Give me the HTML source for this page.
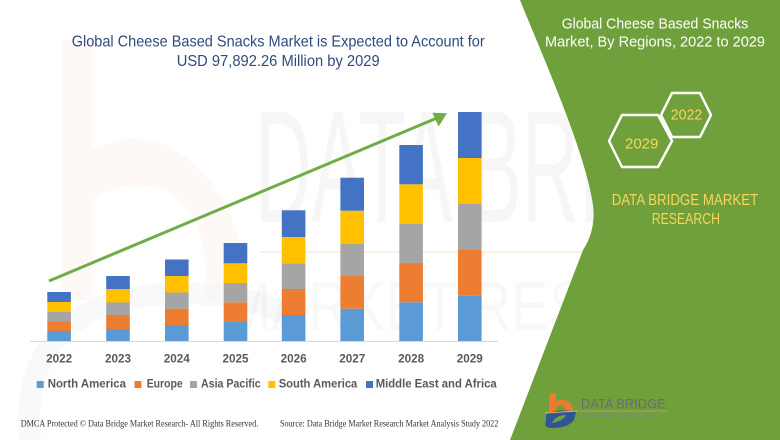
<!DOCTYPE html>
<html><head><meta charset="utf-8"><style>
html,body{margin:0;padding:0;background:#fff;}
svg{display:block;}
text{font-family:"Liberation Sans",sans-serif;}
.serif{font-family:"Liberation Serif",serif;}
</style></head><body>
<svg width="780" height="440" viewBox="0 0 780 440" xmlns="http://www.w3.org/2000/svg">
<rect width="780" height="440" fill="#ffffff"/>
<!-- watermark -->
<g opacity="0.45">
<path d="M62,40 L92,40 L92,150 Q150,120 200,170 Q250,220 240,300 L205,300 Q210,230 180,200 Q140,170 92,200 L92,300 L62,300 Z" fill="#fbe9dc" opacity="0.6"/>
<path d="M30,440 Q20,330 120,300 Q220,280 300,320" fill="none" stroke="#e6ecf3" stroke-width="22" opacity="0.7"/>
</g>
<text x="255" y="222" font-size="160" fill="#000" opacity="0.03" textLength="515" lengthAdjust="spacingAndGlyphs">DATA BRIDGE</text>
<rect x="260" y="251" width="330" height="2" fill="#f6d9c4" opacity="0.45"/>
<text x="225" y="330" font-size="70" fill="#000" opacity="0.025" textLength="555" lengthAdjust="spacingAndGlyphs">MARKET RESEARCH</text>

<!-- green panel -->
<path d="M520,0 C540,50 585,150 593,205 Q596,230 583,250 L510,440 L780,440 L780,0 Z" fill="#70a03b"/>

<!-- title -->
<text x="71.7" y="46.5" font-size="16" fill="#2f4a7c" textLength="413" lengthAdjust="spacingAndGlyphs">Global Cheese Based Snacks Market is Expected to Account for</text>
<text x="176.7" y="66" font-size="16" fill="#2f4a7c" textLength="203" lengthAdjust="spacingAndGlyphs">USD 97,892.26 Million by 2029</text>

<!-- axis -->
<line x1="30" y1="341.5" x2="498" y2="341.5" stroke="#d9d9d9" stroke-width="1"/>

<!-- bars -->
<g>
<!-- 2022 -->
<rect x="47.3" y="331" width="23.6" height="10" fill="#5b9bd5"/>
<rect x="47.3" y="321.5" width="23.6" height="9.5" fill="#ed7d31"/>
<rect x="47.3" y="312" width="23.6" height="9.5" fill="#a5a5a5"/>
<rect x="47.3" y="302" width="23.6" height="10" fill="#ffc000"/>
<rect x="47.3" y="292" width="23.6" height="10" fill="#4472c4"/>
<!-- 2023 -->
<rect x="106.2" y="329" width="23.6" height="12" fill="#5b9bd5"/>
<rect x="106.2" y="315" width="23.6" height="14" fill="#ed7d31"/>
<rect x="106.2" y="302.5" width="23.6" height="12.5" fill="#a5a5a5"/>
<rect x="106.2" y="289" width="23.6" height="13.5" fill="#ffc000"/>
<rect x="106.2" y="276" width="23.6" height="13" fill="#4472c4"/>
<!-- 2024 -->
<rect x="165" y="325" width="23.6" height="16" fill="#5b9bd5"/>
<rect x="165" y="308.7" width="23.6" height="16.3" fill="#ed7d31"/>
<rect x="165" y="292.5" width="23.6" height="16.2" fill="#a5a5a5"/>
<rect x="165" y="276" width="23.6" height="16.5" fill="#ffc000"/>
<rect x="165" y="259.5" width="23.6" height="16.5" fill="#4472c4"/>
<!-- 2025 -->
<rect x="223.7" y="322" width="23.6" height="19" fill="#5b9bd5"/>
<rect x="223.7" y="302.3" width="23.6" height="19.7" fill="#ed7d31"/>
<rect x="223.7" y="283" width="23.6" height="19.3" fill="#a5a5a5"/>
<rect x="223.7" y="263.3" width="23.6" height="19.7" fill="#ffc000"/>
<rect x="223.7" y="243" width="23.6" height="20.3" fill="#4472c4"/>
<!-- 2026 -->
<rect x="281.8" y="315" width="23.6" height="26" fill="#5b9bd5"/>
<rect x="281.8" y="289" width="23.6" height="26" fill="#ed7d31"/>
<rect x="281.8" y="263.3" width="23.6" height="25.7" fill="#a5a5a5"/>
<rect x="281.8" y="237" width="23.6" height="26.3" fill="#ffc000"/>
<rect x="281.8" y="210.3" width="23.6" height="26.7" fill="#4472c4"/>
<!-- 2027 -->
<rect x="340.4" y="308.7" width="23.6" height="32.3" fill="#5b9bd5"/>
<rect x="340.4" y="276" width="23.6" height="32.7" fill="#ed7d31"/>
<rect x="340.4" y="243.3" width="23.6" height="32.7" fill="#a5a5a5"/>
<rect x="340.4" y="210.7" width="23.6" height="32.6" fill="#ffc000"/>
<rect x="340.4" y="177.7" width="23.6" height="33" fill="#4472c4"/>
<!-- 2028 -->
<rect x="399.3" y="302.3" width="23.6" height="38.7" fill="#5b9bd5"/>
<rect x="399.3" y="263" width="23.6" height="39.3" fill="#ed7d31"/>
<rect x="399.3" y="223.7" width="23.6" height="39.3" fill="#a5a5a5"/>
<rect x="399.3" y="184.3" width="23.6" height="39.4" fill="#ffc000"/>
<rect x="399.3" y="145" width="23.6" height="39.3" fill="#4472c4"/>
<!-- 2029 -->
<rect x="458" y="295.7" width="23.6" height="45.3" fill="#5b9bd5"/>
<rect x="458" y="250" width="23.6" height="45.7" fill="#ed7d31"/>
<rect x="458" y="204" width="23.6" height="46" fill="#a5a5a5"/>
<rect x="458" y="158" width="23.6" height="46" fill="#ffc000"/>
<rect x="458" y="112" width="23.6" height="46" fill="#4472c4"/>
</g>

<!-- arrow -->
<line x1="49" y1="281" x2="437" y2="118" stroke="#70ad47" stroke-width="3"/>
<polygon points="447,113.3 432.3,112.8 438.6,126.5" fill="#70ad47"/>

<!-- x labels -->
<g font-size="11.7" font-weight="bold" fill="#595959" text-anchor="middle">
<text x="59.1" y="362.7">2022</text>
<text x="118" y="362.7">2023</text>
<text x="176.8" y="362.7">2024</text>
<text x="235.5" y="362.7">2025</text>
<text x="293.6" y="362.7">2026</text>
<text x="352.2" y="362.7">2027</text>
<text x="411.1" y="362.7">2028</text>
<text x="469.8" y="362.7">2029</text>
</g>

<!-- legend -->
<g font-size="12" font-weight="bold" fill="#595959">
<rect x="36.7" y="381" width="7" height="7" fill="#5b9bd5"/>
<text x="47.7" y="387.7" textLength="78.3" lengthAdjust="spacingAndGlyphs">North America</text>
<rect x="134.5" y="381" width="7" height="7" fill="#ed7d31"/>
<text x="146.7" y="387.7" textLength="36" lengthAdjust="spacingAndGlyphs">Europe</text>
<rect x="190" y="381" width="7" height="7" fill="#a5a5a5"/>
<text x="201" y="387.7" textLength="59.7" lengthAdjust="spacingAndGlyphs">Asia Pacific</text>
<rect x="268.3" y="381" width="7" height="7" fill="#ffc000"/>
<text x="278.7" y="387.7" textLength="78.6" lengthAdjust="spacingAndGlyphs">South America</text>
<rect x="366" y="381" width="7" height="7" fill="#4472c4"/>
<text x="375.7" y="387.7" textLength="121" lengthAdjust="spacingAndGlyphs">Middle East and Africa</text>
</g>

<!-- footer -->
<text class="serif" x="20.7" y="426.7" font-size="9" fill="#333" textLength="237.6" lengthAdjust="spacingAndGlyphs">DMCA Protected © Data Bridge Market Research- All Rights Reserved.</text>
<text class="serif" x="280" y="426.7" font-size="9" fill="#333" textLength="218.3" lengthAdjust="spacingAndGlyphs">Source: Data Bridge Market Research Market Analysis Study 2022</text>

<!-- right panel text -->
<text x="561.7" y="28.3" font-size="15" fill="#ffffff" textLength="186.6" lengthAdjust="spacingAndGlyphs">Global Cheese Based Snacks</text>
<text x="545" y="46.7" font-size="15" fill="#ffffff" textLength="220" lengthAdjust="spacingAndGlyphs">Market, By Regions, 2022 to 2029</text>

<!-- hexagons -->
<polygon points="661,115 672,93 700,93 711,115 700,137 672,137" fill="none" stroke="#ffffff" stroke-width="2.5" stroke-linejoin="round"/>
<polygon points="609,141 622,115 658,115 672,141 658,167 622,167" fill="none" stroke="#ffffff" stroke-width="2.5" stroke-linejoin="round"/>
<text x="670.7" y="119.3" font-size="15" fill="#f7d65a" textLength="31.6" lengthAdjust="spacingAndGlyphs">2022</text>
<text x="625" y="148.3" font-size="15" fill="#f7d65a" textLength="33.3" lengthAdjust="spacingAndGlyphs">2029</text>

<text x="611.7" y="205" font-size="16" fill="#f7d65a" textLength="146.6" lengthAdjust="spacingAndGlyphs">DATA BRIDGE MARKET</text>
<text x="651.7" y="224" font-size="16" fill="#f7d65a" textLength="68.3" lengthAdjust="spacingAndGlyphs">RESEARCH</text>

<!-- logo -->
<path d="M549,393 L556,393 L556,401 Q565,398 571,404 Q574,409 571,412 L564,412 Q566,406 561,405 Q557,405 556,408 L556,412 L549,412 Z" fill="#ee7a2f"/>
<path d="M546,414 Q560,408 576,412 L574,420 Q568,428 552,428 Q543,428 546,421 Z" fill="#2f5597"/>
<path d="M552,423 Q556,415 566,415 Q563,421 552,423 Z" fill="#70a03b"/>
<line x1="545" y1="413" x2="578" y2="411" stroke="#f2b35a" stroke-width="1"/>
<text x="581" y="408.3" font-size="14" fill="#6d6a7a" textLength="84.7" lengthAdjust="spacingAndGlyphs">DATA BRIDGE</text>
<line x1="579" y1="411" x2="668" y2="411" stroke="#c9a65a" stroke-width="0.7"/>
<text x="582" y="418" font-size="5" fill="#7d80a8" textLength="82" lengthAdjust="spacing">MARKET RESEARCH</text>
</svg>
</body></html>
